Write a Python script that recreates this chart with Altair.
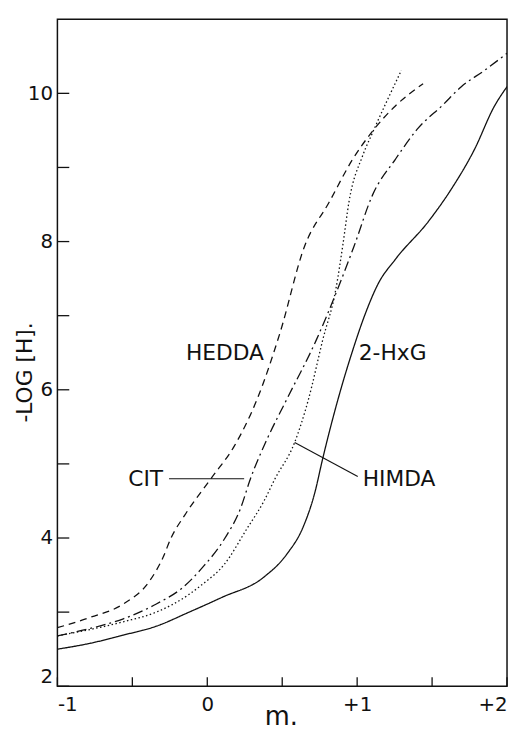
import altair as alt
import pandas as pd

# ---- data ----
hxg_m = [-1, -0.78, -0.56, -0.34, -0.121, 0.099, 0.376, 0.53, 0.64, 0.716, 0.77, 0.872, 0.97,
         1.057, 1.14, 1.255, 1.475, 1.629, 1.782, 1.914, 2.0]
hxg_v = [2.50, 2.58, 2.69, 2.81, 3.0, 3.2, 3.47, 3.78, 4.15, 4.6, 5.07, 5.87, 6.53,
         7.04, 7.43, 7.76, 8.27, 8.71, 9.24, 9.82, 10.09]

hedda_m = [-1, -0.78, -0.56, -0.385, -0.297, -0.242, -0.15, 0.024, 0.18, 0.332, 0.484, 0.648,
           0.813, 0.97, 1.103, 1.255, 1.44]
hedda_v = [2.79, 2.93, 3.11, 3.42, 3.73, 4.0, 4.31, 4.8, 5.24, 5.87, 6.76, 7.93,
           8.53, 9.11, 9.49, 9.83, 10.13]

cit_m = [-1, -0.78, -0.56, -0.34, -0.165, -0.033, 0.112, 0.222, 0.288, 0.398, 0.53, 0.727,
         0.872, 0.978, 1.103, 1.255, 1.407, 1.57, 1.695, 1.85, 2.0]
cit_v = [2.68, 2.78, 2.91, 3.11, 3.33, 3.6, 3.98, 4.4, 4.8, 5.33, 5.87, 6.67,
         7.37, 7.93, 8.63, 9.11, 9.53, 9.84, 10.09, 10.31, 10.54]

himda_m = [-1, -0.56, -0.34, -0.121, -0.042, 0.112, 0.266, 0.376, 0.452, 0.583, 0.675, 0.77,
           0.859, 0.905, 0.945, 1.037, 1.103, 1.295]
himda_v = [2.68, 2.87, 3.0, 3.24, 3.36, 3.64, 4.13, 4.49, 4.8, 5.29, 5.87, 6.67,
           7.37, 7.96, 8.53, 9.16, 9.47, 10.31]

x_ticks = [-1, -0.5, 0, 0.5, 1, 1.5, 2]
y_ticks = [2, 3, 4, 5, 6, 7, 8, 9, 10]
x_labels = [-1, 0, 1, 2]
y_labels = [2, 4, 6, 8, 10]

right_labels = ["HEDDA", "CIT"]
right_m = [0.378, -0.295]
right_v = [6.49, 4.80]
left_labels = ["2-HxG", "HIMDA"]
left_m = [1.011, 1.037]
left_v = [6.49, 4.80]

lead_m1 = [-0.255, 0.583]
lead_v1 = [4.80, 5.29]
lead_m2 = [0.246, 1.004]
lead_v2 = [4.80, 4.83]

W, H = 455, 675
FONT = "DejaVu Sans"
INK = "#111111"

xs = alt.Scale(domain=[-1, 2], nice=False, zero=False)
ys = alt.Scale(domain=[2, 11], nice=False, zero=False)

ax_x = alt.Axis(
    values=x_labels,
    labelExpr="datum.value > 0 ? '+' + datum.value : (datum.value < 0 ? '-' + abs(datum.value) : '0')",
    ticks=False, domain=False, grid=False, labelFlush=True, labelPadding=9,
    title="m.", titleY=39, titleBaseline="alphabetic", titleX=226, titleFontSize=26)
ax_y = alt.Axis(
    values=y_labels, ticks=False, domain=False, grid=False, labelFlush=True,
    labelPadding=5, title="-LOG [H].", titleAngle=270, titleX=-33, titleY=357,
    titleAlign="center", titleBaseline="middle", titleFontSize=22)


def X(field="m"):
    return alt.X(f"{field}:Q", scale=xs, axis=ax_x)


def Y(field="v"):
    return alt.Y(f"{field}:Q", scale=ys, axis=ax_y)


def curve(ms, vs, dash):
    df = pd.DataFrame({"m": ms, "v": vs})
    return alt.Chart(df).mark_line(
        color=INK, strokeWidth=1.3, strokeDash=dash, interpolate="monotone", clip=True
    ).encode(x=X(), y=Y())


xt = alt.Chart(pd.DataFrame({"m": x_ticks})).mark_rule(color=INK, strokeWidth=1.3).encode(
    x=X(), y=alt.value(H), y2=alt.value(H - 9))
yt = alt.Chart(pd.DataFrame({"v": y_ticks})).mark_rule(color=INK, strokeWidth=1.3).encode(
    y=Y(), x=alt.value(0), x2=alt.value(12))

lab_r = alt.Chart(pd.DataFrame({"t": right_labels, "m": right_m, "v": right_v})).mark_text(
    align="right", baseline="middle", font=FONT, fontSize=22, color=INK
).encode(x=X(), y=Y(), text="t:N")
lab_l = alt.Chart(pd.DataFrame({"t": left_labels, "m": left_m, "v": left_v})).mark_text(
    align="left", baseline="middle", font=FONT, fontSize=22, color=INK
).encode(x=X(), y=Y(), text="t:N")

leads = alt.Chart(pd.DataFrame({"m": lead_m1, "v": lead_v1, "m2": lead_m2, "v2": lead_v2})).mark_rule(
    color=INK, strokeWidth=1.1
).encode(x=X(), y=Y(), x2="m2:Q", y2="v2:Q")

chart = alt.layer(
    curve(hxg_m, hxg_v, [1, 0]),
    curve(hedda_m, hedda_v, [7, 5]),
    curve(cit_m, cit_v, [10, 4, 2, 4]),
    curve(himda_m, himda_v, [1.5, 2.5]),
    xt, yt, lab_r, lab_l, leads,
).properties(
    width=W, height=H,
    background="white",
    autosize=alt.AutoSizeParams(type="none"),
    padding={"left": 50, "top": 7, "right": 2, "bottom": 46},
).configure_view(stroke=INK, strokeWidth=1.5).configure_axis(
    labelFont=FONT, labelFontSize=20, labelColor=INK,
    titleFont=FONT, titleFontWeight="normal", titleColor=INK,
)

chart.save("out.html", embed_options={"renderer": "svg", "actions": False})
